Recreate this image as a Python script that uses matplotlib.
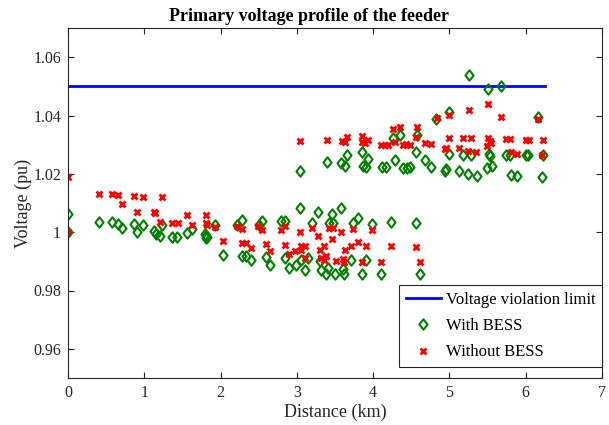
import matplotlib
matplotlib.use("Agg")
import matplotlib.pyplot as plt
from matplotlib.ticker import FixedLocator
from matplotlib.path import Path

plt.rcParams['font.family'] = ['Liberation Serif', 'DejaVu Serif']

limit_x = [0.0, 6.25]
limit_y = [1.05, 1.05]

with_x = [0, 0, 0.40, 0.58, 0.655, 0.707, 0.86, 0.905, 0.98, 1.13, 1.15, 1.21, 1.23, 1.36, 1.43,
          1.56, 1.62, 1.80, 1.81, 1.81, 1.82, 1.93, 2.03, 2.21, 2.28, 2.28, 2.33, 2.40, 2.50, 2.54,
          2.59, 2.65, 2.79, 2.85, 2.85, 2.90, 2.99, 3.04, 3.05, 3.11, 3.14, 3.20, 3.28, 3.30, 3.31,
          3.38, 3.41, 3.42, 3.46, 3.47, 3.50, 3.58, 3.60, 3.62, 3.71, 3.73, 3.80, 3.85, 3.91, 3.98,
          4.10, 4.23, 4.56, 4.61,
          3.04, 3.39, 3.58, 3.63, 3.66, 3.86, 3.87, 3.90, 3.93, 4.11, 4.17, 4.26, 4.28, 4.35, 4.39,
          4.44, 4.48, 4.56, 4.58, 4.68, 4.76, 4.83, 4.94, 4.96, 5.00, 5.00, 5.13, 5.18, 5.24, 5.26,
          5.28, 5.36, 5.49, 5.51, 5.52, 5.53, 5.56, 5.68, 5.74, 5.80, 5.81, 5.88, 6.01, 6.03, 6.16,
          6.21, 6.23]
with_y = [1.0062, 1.000, 1.0034, 1.0034, 1.0029, 1.0015, 1.0029, 1.000, 1.0025, 1.0005, 0.9994, 0.9988, 1.0023, 0.9985, 0.9985,
          0.9996, 1.001, 0.9995, 0.9988, 0.998, 0.9984, 1.0025, 0.9923, 1.0025, 1.0042, 0.992, 0.992, 0.9903, 1.0025, 1.004,
          0.9914, 0.9886, 1.0038, 1.0038, 0.9912, 0.9878, 0.9886, 1.0084, 0.9903, 0.9869, 0.9912, 1.0032, 1.007, 0.9901, 0.9871,
          0.9858, 0.9878, 1.003, 1.0063, 1.003, 0.9855, 1.0084, 0.9875, 0.9855, 0.9903, 1.0032, 1.0049, 0.9855, 0.9903, 1.0029,
          0.9855, 1.0036, 1.0032, 0.9855,
          1.0211, 1.0242, 1.0236, 1.0228, 1.0263, 1.0276, 1.0228, 1.0225, 1.0251, 1.0222, 1.0222, 1.0323, 1.0248, 1.0334, 1.022,
          1.022, 1.0222, 1.0274, 1.0334, 1.0246, 1.0225, 1.0388, 1.0211, 1.0217, 1.0411, 1.0268, 1.0211, 1.0266, 1.0198, 1.054,
          1.0266, 1.0194, 1.0219, 1.0491, 1.0268, 1.0262, 1.0227, 1.0501, 1.0266, 1.0266, 1.0197, 1.0191, 1.0265, 1.0265, 1.0396,
          1.0188, 1.0266]

without_x = [0, 0, 0.41, 0.58, 0.655, 0.707, 0.86, 0.905, 0.98, 1.13, 1.14, 1.21, 1.23, 1.36, 1.44,
             1.56, 1.62, 1.81, 1.81, 1.82, 1.93, 2.03, 2.21, 2.28, 2.28, 2.33, 2.40, 2.49, 2.54, 2.59,
             2.65, 2.79, 2.85, 2.85, 2.90, 2.98, 3.04, 3.05, 3.05, 3.11, 3.11, 3.20, 3.28, 3.30, 3.31,
             3.35, 3.36, 3.38, 3.42, 3.46, 3.47, 3.51, 3.58, 3.61, 3.62, 3.63, 3.71, 3.73, 3.80, 3.85,
             3.91, 3.98, 4.10, 4.23, 4.56, 4.61,
             3.04, 3.39, 3.59, 3.63, 3.66, 3.86, 3.86, 3.89, 3.93, 4.10, 4.16, 4.19, 4.26, 4.28, 4.35,
             4.39, 4.43, 4.48, 4.57, 4.56, 4.68, 4.76, 4.84, 4.94, 4.96, 5.00, 5.00, 5.13, 5.18, 5.24,
             5.26, 5.28, 5.35, 5.49, 5.51, 5.51, 5.53, 5.55, 5.68, 5.74, 5.80, 5.81, 5.88, 6.01, 6.04,
             6.16, 6.21, 6.23]
without_y = [1.0188, 1.000, 1.0131, 1.0131, 1.0126, 1.0095, 1.0125, 1.007, 1.0122, 1.007, 1.0065, 1.0034, 1.012, 1.0032, 1.0032,
             1.006, 1.0025, 1.006, 1.003, 1.0025, 1.0017, 0.9969, 1.002, 1.0012, 0.9964, 0.9964, 0.9945, 1.002, 1.0008, 0.996,
             0.9934, 1.0008, 1.002, 0.9957, 0.9924, 0.9934, 1.000, 0.9952, 0.994, 0.9954, 0.9912, 1.0014, 0.9986, 0.994, 0.9911,
             0.9952, 0.9903, 0.992, 1.0014, 0.9978, 1.0014, 0.9901, 1.000, 0.9909, 0.9897, 0.994, 0.9951, 1.001, 0.9965, 0.9899,
             0.9951, 1.0009, 0.9899, 0.9952, 0.9949, 0.9897,
             1.0312, 1.0316, 1.0312, 1.0308, 1.0325, 1.0331, 1.0308, 1.0305, 1.0316, 1.030, 1.030, 1.030, 1.0354, 1.031, 1.036,
             1.030, 1.0303, 1.030, 1.036, 1.0325, 1.0306, 1.0303, 1.0392, 1.0285, 1.029, 1.0403, 1.0323, 1.0289, 1.0323, 1.0277,
             1.0419, 1.0323, 1.0274, 1.0297, 1.044, 1.0323, 1.0314, 1.0305, 1.0394, 1.032, 1.032, 1.0276, 1.0268, 1.0317, 1.0317,
             1.0388, 1.0266, 1.0317]

x_ticks = [0, 1, 2, 3, 4, 5, 6, 7]
y_ticks = [0.96, 0.98, 1.0, 1.02, 1.04, 1.06]
y_ticklabels = ['0.96', '0.98', '1', '1.02', '1.04', '1.06']

diamond = Path([(0, 1), (0.78, 0), (0, -1), (-0.78, 0), (0, 1)],
               [Path.MOVETO, Path.LINETO, Path.LINETO, Path.LINETO, Path.CLOSEPOLY])

fig = plt.figure(figsize=(6.09, 4.25), dpi=100)
ax = fig.add_axes([68 / 609, 1 - 378 / 425, (602 - 68) / 609, (378 - 28) / 425])

ax.plot(limit_x, limit_y, color='#0000ff', lw=2, label='Voltage violation limit')
ax.plot(with_x, with_y, linestyle='none', marker=diamond, markersize=7.5, mfc='none',
        mec='#008000', mew=1.5, label='With BESS')
ax.plot(without_x, without_y, linestyle='none', marker='x', markersize=4.2, mec='#ff0000',
        mew=2, label='Without BESS')

ax.set_xlim(0, 7)
ax.set_ylim(0.95, 1.07)
ax.xaxis.set_major_locator(FixedLocator(x_ticks))
ax.set_xticklabels([str(t) for t in x_ticks])
ax.yaxis.set_major_locator(FixedLocator(y_ticks))
ax.set_yticklabels(y_ticklabels)

edge = '#262626'
for s in ax.spines.values():
    s.set_color(edge)
    s.set_linewidth(0.8)
ax.tick_params(direction='in', top=True, right=True, length=4, width=0.8,
               colors=edge, labelsize=11.5, labelcolor='#262626', pad=5)

ax.set_xlabel('Distance (km)', fontsize=13, color='#262626', labelpad=2)
ax.set_ylabel('Voltage (pu)', fontsize=13, color='#262626', labelpad=0.5)
ax.set_title('Primary voltage profile of the feeder', fontsize=13, fontweight='bold',
             pad=5, x=0.452)

leg = ax.legend(loc='lower right', bbox_to_anchor=(1.0, 0.031), borderaxespad=0,
                fontsize=12, fancybox=False, framealpha=1, edgecolor='#262626',
                handlelength=2.1, labelspacing=0.62, borderpad=0.4, handletextpad=0.3)
leg.get_frame().set_linewidth(0.8)

fig.savefig('out.png', dpi=100)
